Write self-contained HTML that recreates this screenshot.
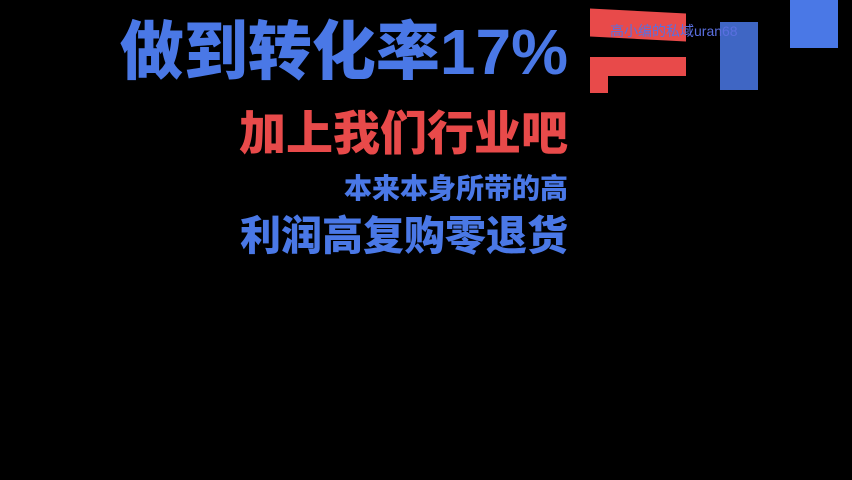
<!DOCTYPE html>
<html><head><meta charset="utf-8"><style>
html,body{margin:0;padding:0;background:#000;width:852px;height:480px;overflow:hidden;position:relative;font-family:"Liberation Sans","Noto Sans CJK SC",sans-serif;font-weight:900}
.t{position:absolute;white-space:nowrap;line-height:1;text-align:right}
.b{color:#4a78e6}.r{color:#e84a4a}
.s{position:absolute}
</style></head><body>
<div class="t b" style="right:284px;top:20px;font-size:64px;letter-spacing:0px">做到转化率17%</div>
<div class="t r" style="right:284px;top:110px;font-size:47px">加上我们行业吧</div>
<div class="t b" style="right:284px;top:175px;font-size:28px">本来本身所带的高</div>
<div class="t b" style="right:284px;top:216px;font-size:41px">利润高复购零退货</div>
<div class="s" style="left:590px;top:11px;width:96px;height:28px;background:#e84a4a;transform:skewY(3deg)"></div>
<div class="s" style="left:590px;top:57px;width:96px;height:19px;background:#e84a4a"></div>
<div class="s" style="left:590px;top:57px;width:18px;height:36px;background:#e84a4a"></div>
<div class="s" style="left:720px;top:22px;width:38px;height:68px;background:#4a78e6;opacity:.85"></div>
<div class="s" style="left:790px;top:0;width:48px;height:48px;background:#4a78e6"></div>
<div class="t b" style="left:610px;top:24px;font-size:14px;font-weight:400;color:#5a6fe0">高小编的私域uran68</div>
</body></html>
